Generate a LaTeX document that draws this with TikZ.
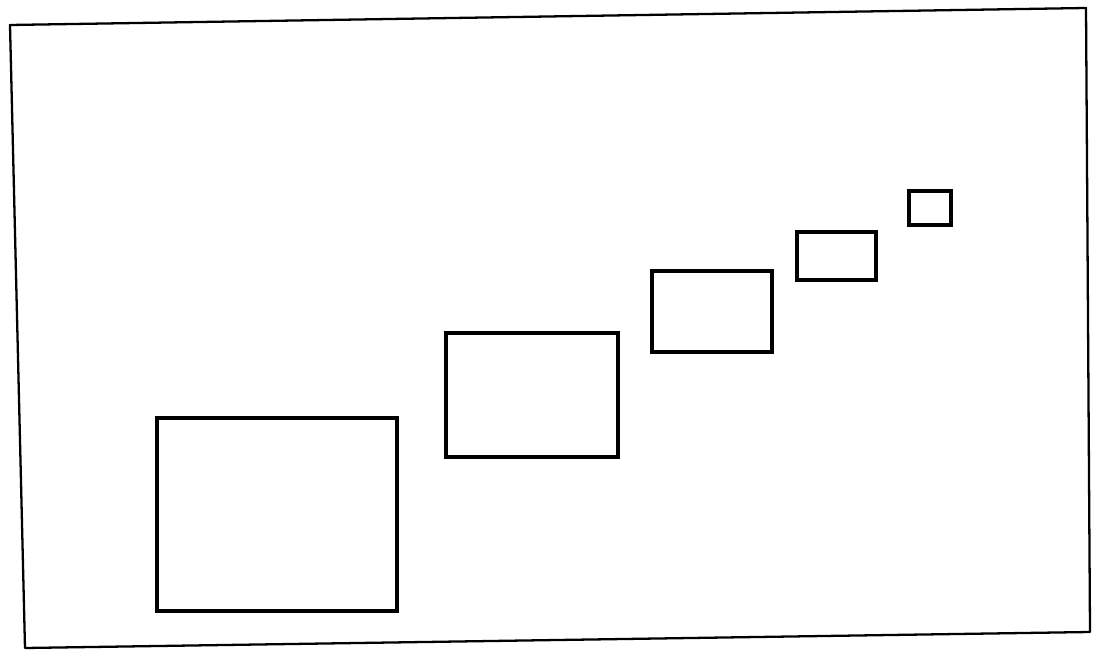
\documentclass[tikz,border=0pt]{standalone}
\usepackage{tikz}
\begin{document}
\begin{tikzpicture}[x=0.02cm,y=-0.02cm]
    \useasboundingbox (0,0) rectangle (1101,651);
    % Frame
    \draw[line width=1.3pt, line join=round] (10,25) -- (1086,8) -- (1090,632) -- (25,648) -- cycle;
    % Shrinking boxes
    \foreach \xa/\ya/\xb/\yb in {157/418/397/611, 446/333/618/457, 652/271/772/352, 797/232/876/280, 909/191/951/225} {
        \draw[line width=1.8pt] (\xa,\ya) rectangle (\xb,\yb);
    }
\end{tikzpicture}
\end{document}
